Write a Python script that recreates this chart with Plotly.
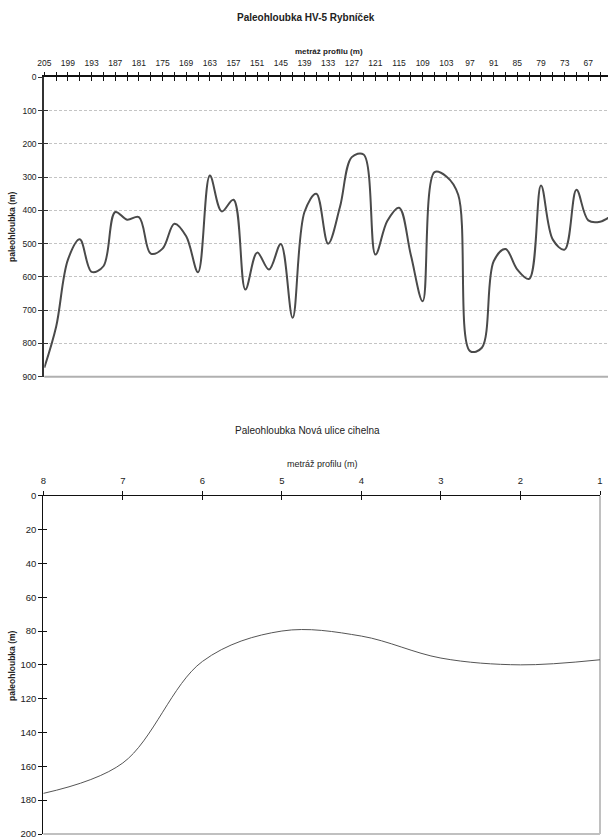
import plotly.graph_objects as go

# ---------------- data: top chart (HV-5 Rybníček) ----------------
top_dist = [205, 202, 199, 196, 193, 190, 187, 184, 181, 178, 175, 172, 169, 166, 163,
            160, 157, 154, 151, 148, 145, 142, 139, 136, 133, 130, 127, 124, 121, 118,
            115, 112, 109, 106, 103, 100, 97, 94, 91, 88, 85, 82, 79, 76, 73, 70, 67, 64, 61]
top_depth = [873, 750, 548, 487, 585, 568, 405, 428, 420, 530, 515, 440, 478, 586, 295,
             403, 368, 638, 527, 578, 501, 723, 405, 350, 500, 390, 240, 232, 533, 432,
             392, 535, 673, 285, 298, 353, 823, 813, 553, 516, 578, 606, 325, 488, 518,
             338, 430, 434, 415]
top_labels = [205, 199, 193, 187, 181, 175, 169, 163, 157, 151, 145, 139, 133, 127, 121,
              115, 109, 103, 97, 91, 85, 79, 73, 67, 61]
top_yticks = [0, 100, 200, 300, 400, 500, 600, 700, 800, 900]

# ---------------- data: bottom chart (Nová ulice cihelna) ----------------
bot_dist = [8, 7, 6, 5, 4, 3, 2, 1]
bot_depth = [176, 158, 98, 80, 83, 96, 100, 97]
bot_yticks = [0, 20, 40, 60, 80, 100, 120, 140, 160, 180, 200]

FONT = "Liberation Sans, Arial, sans-serif"
W, H = 608, 837

def px_x(p):
    return p / W

def px_y(p):
    return 1 - p / H

top_ticktext = [str(v) if v in top_labels else "" for v in top_dist]

fig = go.Figure()
fig.add_trace(go.Scatter(x=top_dist, y=top_depth, mode="lines",
                         line=dict(shape="spline", smoothing=1.0, color="#4a4a4a", width=2),
                         xaxis="x", yaxis="y", showlegend=False, hoverinfo="skip"))
fig.add_trace(go.Scatter(x=bot_dist, y=bot_depth, mode="lines",
                         line=dict(shape="spline", smoothing=1.0, color="#555555", width=1),
                         xaxis="x2", yaxis="y2", showlegend=False, hoverinfo="skip"))
# empty traces so the overlay axes (crossing tick halves) are drawn
for xa, ya in [("x3", "y"), ("x", "y3"), ("x4", "y2"), ("x2", "y4")]:
    fig.add_trace(go.Scatter(x=[], y=[], xaxis=xa, yaxis=ya, showlegend=False, hoverinfo="skip"))

top_xdom = [px_x(44.3), 1.0]
top_ydom = [px_y(376.7), px_y(77.3)]
bot_xdom = [px_x(43.3), px_x(600)]
bot_ydom = [px_y(834), px_y(495.7)]

tickfont_top = dict(family=FONT, size=8.5, color="#222")
tickfont_bot = dict(family=FONT, size=9.5, color="#222")

fig.update_layout(
    width=W, height=H,
    margin=dict(l=0, r=0, t=0, b=0),
    paper_bgcolor="white", plot_bgcolor="white",
    font=dict(family=FONT, color="#222"),
    xaxis=dict(domain=top_xdom, anchor="y", side="top", range=[205, 62],
               tickmode="array", tickvals=top_dist, ticktext=top_ticktext,
               ticks="outside", ticklen=4, tickwidth=1, tickcolor="#111",
               ticklabelstandoff=2,
               showline=True, linecolor="#111", linewidth=1.5,
               showgrid=False, zeroline=False, tickfont=tickfont_top, automargin=False),
    xaxis3=dict(overlaying="x", anchor="y", side="top", range=[205, 62],
                tickmode="array", tickvals=top_dist, showticklabels=False,
                ticks="inside", ticklen=4, tickwidth=1, tickcolor="#111",
                showline=False, showgrid=False, zeroline=False, automargin=False),
    yaxis=dict(domain=top_ydom, anchor="x", range=[900, 0],
               tickmode="array", tickvals=top_yticks,
               ticks="outside", ticklen=4, tickwidth=1, tickcolor="#333",
               showline=True, linecolor="#333", linewidth=2,
               showgrid=True, gridcolor="#c4c4c4", gridwidth=1, griddash="3px,2px",
               zeroline=False, tickfont=tickfont_top, automargin=False),
    yaxis3=dict(overlaying="y", anchor="x", range=[900, 0],
                tickmode="array", tickvals=top_yticks, showticklabels=False,
                ticks="inside", ticklen=4, tickwidth=1, tickcolor="#333",
                showline=False, showgrid=False, zeroline=False, automargin=False),
    xaxis2=dict(domain=bot_xdom, anchor="y2", side="top", range=[8, 1],
                tickmode="array", tickvals=bot_dist,
                ticks="outside", ticklen=4, tickwidth=1, tickcolor="#111",
                ticklabelstandoff=3,
                showline=True, linecolor="#111", linewidth=1.2,
                showgrid=False, zeroline=False, tickfont=tickfont_bot, automargin=False),
    xaxis4=dict(overlaying="x2", anchor="y2", side="top", range=[8, 1],
                tickmode="array", tickvals=bot_dist, showticklabels=False,
                ticks="inside", ticklen=4, tickwidth=1, tickcolor="#111",
                showline=False, showgrid=False, zeroline=False, automargin=False),
    yaxis2=dict(domain=bot_ydom, anchor="x2", range=[200, 0],
                tickmode="array", tickvals=bot_yticks,
                ticks="outside", ticklen=4, tickwidth=1, tickcolor="#111",
                ticklabeloverflow="allow",
                showline=True, linecolor="#111", linewidth=1.2,
                showgrid=False, zeroline=False, tickfont=tickfont_bot, automargin=False),
    yaxis4=dict(overlaying="y2", anchor="x2", range=[200, 0],
                tickmode="array", tickvals=bot_yticks, showticklabels=False,
                ticks="inside", ticklen=4, tickwidth=1, tickcolor="#111",
                showline=False, showgrid=False, zeroline=False, automargin=False),
)

# plot-area borders (bottom of top chart; right + bottom of bottom chart)
fig.add_shape(type="line", xref="x domain", yref="y domain", x0=0, x1=1, y0=0, y1=0,
              line=dict(color="#b0b0b0", width=2), layer="below")
fig.add_shape(type="line", xref="x2 domain", yref="y2 domain", x0=0, x1=1, y0=0, y1=0,
              line=dict(color="#c0c0c0", width=2), layer="below")
fig.add_shape(type="line", xref="x2 domain", yref="y2 domain", x0=1, x1=1, y0=0, y1=1,
              line=dict(color="#c0c0c0", width=2), layer="below")

ann = [
    dict(text="<b>Paleohloubka HV-5 Rybníček</b>", x=px_x(306), y=px_y(17), size=10),
    dict(text="<b>metráž profilu (m)</b>", x=px_x(329), y=px_y(52), size=8),
    dict(text="<b>paleohloubka (m)</b>", x=px_x(12), y=px_y(227), size=8.5, angle=-90),
    dict(text="Paleohloubka Nová ulice cihelna", x=px_x(307), y=px_y(430), size=10),
    dict(text="metráž profilu (m)", x=px_x(322), y=px_y(464), size=9),
    dict(text="<b>paleohloubka (m)</b>", x=px_x(12), y=px_y(666), size=8.5, angle=-90),
]
for a in ann:
    fig.add_annotation(text=a["text"], x=a["x"], y=a["y"], xref="paper", yref="paper",
                       xanchor="center", yanchor="middle", showarrow=False,
                       textangle=a.get("angle", 0),
                       font=dict(family=FONT, size=a["size"], color="#222"))

fig.write_html("out.html")
